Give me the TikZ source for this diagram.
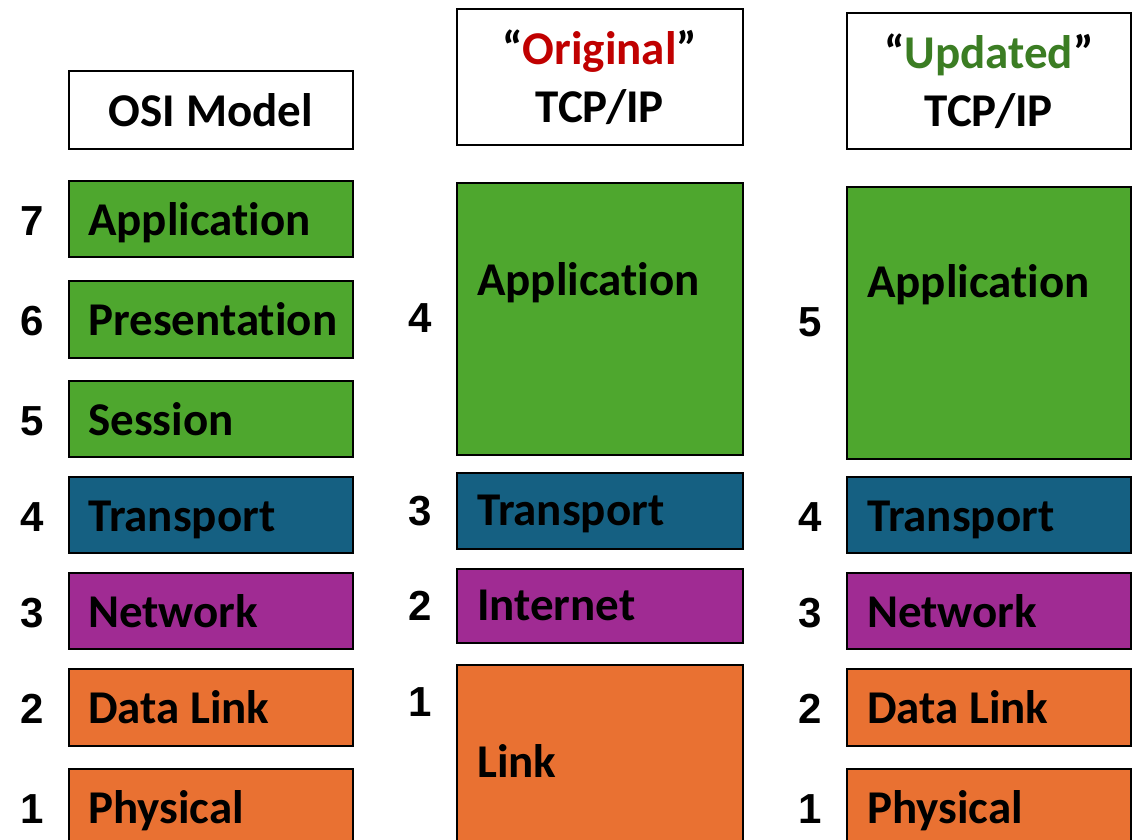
\documentclass[tikz,border=0pt]{standalone}
\usepackage{fontspec}
\setmainfont{Carlito}[Ligatures=NoCommon]
\newfontfamily\numfont{Liberation Sans}
\usetikzlibrary{calc}

% Layer colours
\definecolor{appgreen}{HTML}{4EA72E}
\definecolor{transblue}{HTML}{156082}
\definecolor{netpurple}{HTML}{A02B93}
\definecolor{linkorange}{HTML}{E97132}
\definecolor{origred}{HTML}{C00000}
\definecolor{updgreen}{HTML}{3B7D23}

\tikzset{
  layerbox/.style={draw=black, line width=1.6pt, rectangle, inner sep=0pt,
    anchor=north west, minimum width=284pt},
  titlebox/.style={draw=black, line width=1.6pt, rectangle, fill=white,
    anchor=north west, minimum width=284pt, align=center, inner sep=0pt,
    font=\fontsize{47}{58}\selectfont\bfseries},
  lbl/.style={inner sep=0pt, anchor=base west,
    font=\fontsize{47}{56}\selectfont\bfseries},
  num/.style={inner sep=0pt, anchor=base,
    font=\fontsize{42}{50}\selectfont\numfont\bfseries},
}

\begin{document}
\begin{tikzpicture}[x=1pt, y=-1pt]
\useasboundingbox (0,0) rectangle (1135,840);
\clip (0,0) rectangle (1135,840);

% ---------- OSI model ----------
\node[titlebox, minimum height=78pt] (osiT) at (68,70) {OSI Model};

\node[layerbox, fill=appgreen,   minimum height=76pt]  (osi7) at (68,180) {};
\node[layerbox, fill=appgreen,   minimum height=77pt]  (osi6) at (68,280) {};
\node[layerbox, fill=appgreen,   minimum height=76pt]  (osi5) at (68,380) {};
\node[layerbox, fill=transblue,  minimum height=76pt]  (osi4) at (68,476) {};
\node[layerbox, fill=netpurple,  minimum height=76pt]  (osi3) at (68,572) {};
\node[layerbox, fill=linkorange, minimum height=77pt]  (osi2) at (68,668) {};
\node[layerbox, fill=linkorange, minimum height=110pt] (osi1) at (68,768) {};

\node[lbl] (osi7t) at ($(osi7.north west)+(20,55)$) {Application};
\node[lbl] (osi6t) at ($(osi6.north west)+(20,55)$) {Presentation};
\node[lbl] (osi5t) at ($(osi5.north west)+(20,55)$) {Session};
\node[lbl] (osi4t) at ($(osi4.north west)+(20,55)$) {Transport};
\node[lbl] (osi3t) at ($(osi3.north west)+(20,55)$) {Network};
\node[lbl] (osi2t) at ($(osi2.north west)+(20,55)$) {Data Link};
\node[lbl] (osi1t) at ($(osi1.north west)+(20,55)$) {Physical};

\node[num] (osi7n) at ($(osi7.north west)+(-36,55)$) {7};
\node[num] (osi6n) at ($(osi6.north west)+(-36,55)$) {6};
\node[num] (osi5n) at ($(osi5.north west)+(-36,55)$) {5};
\node[num] (osi4n) at ($(osi4.north west)+(-36,55)$) {4};
\node[num] (osi3n) at ($(osi3.north west)+(-36,55)$) {3};
\node[num] (osi2n) at ($(osi2.north west)+(-36,55)$) {2};
\node[num] (osi1n) at ($(osi1.north west)+(-36,55)$) {1};

% ---------- Original TCP/IP ----------
\node[titlebox, minimum width=286pt, minimum height=136pt] (origT) at (456,8)
  {“\textcolor{origred}{Original}”\\TCP/IP};

\node[layerbox, fill=appgreen,   minimum width=286pt, minimum height=272pt] (org4) at (456,182) {};
\node[layerbox, fill=transblue,  minimum width=286pt, minimum height=76pt]  (org3) at (456,472) {};
\node[layerbox, fill=netpurple,  minimum width=286pt, minimum height=74pt]  (org2) at (456,568) {};
\node[layerbox, fill=linkorange, minimum width=286pt, minimum height=210pt] (org1) at (456,664) {};

\node[lbl] (org4t) at ($(org4.north west)+(21,113)$) {Application};
\node[lbl] (org3t) at ($(org3.north west)+(21,53)$)  {Transport};
\node[lbl] (org2t) at ($(org2.north west)+(21,52)$)  {Internet};
\node[lbl] (org1t) at ($(org1.north west)+(21,113)$) {Link};

\node[num] (org4n) at ($(org4.north west)+(-36,150)$) {4};
\node[num] (org3n) at ($(org3.north west)+(-36,53)$)  {3};
\node[num] (org2n) at ($(org2.north west)+(-36,52)$)  {2};
\node[num] (org1n) at ($(org1.north west)+(-36,52)$)  {1};

% ---------- Updated TCP/IP ----------
\node[titlebox, minimum height=136pt] (updT) at (846,12)
  {“\textcolor{updgreen}{Updated}”\\TCP/IP};

\node[layerbox, fill=appgreen,   minimum height=272pt] (upd5) at (846,186) {};
\node[layerbox, fill=transblue,  minimum height=76pt]  (upd4) at (846,476) {};
\node[layerbox, fill=netpurple,  minimum height=76pt]  (upd3) at (846,572) {};
\node[layerbox, fill=linkorange, minimum height=77pt]  (upd2) at (846,668) {};
\node[layerbox, fill=linkorange, minimum height=110pt] (upd1) at (846,768) {};

\node[lbl] (upd5t) at ($(upd5.north west)+(21,111)$) {Application};
\node[lbl] (upd4t) at ($(upd4.north west)+(21,55)$)  {Transport};
\node[lbl] (upd3t) at ($(upd3.north west)+(21,55)$)  {Network};
\node[lbl] (upd2t) at ($(upd2.north west)+(21,55)$)  {Data Link};
\node[lbl] (upd1t) at ($(upd1.north west)+(21,55)$)  {Physical};

\node[num] (upd5n) at ($(upd5.north west)+(-36,150)$) {5};
\node[num] (upd4n) at ($(upd4.north west)+(-36,55)$)  {4};
\node[num] (upd3n) at ($(upd3.north west)+(-36,55)$)  {3};
\node[num] (upd2n) at ($(upd2.north west)+(-36,55)$)  {2};
\node[num] (upd1n) at ($(upd1.north west)+(-36,55)$)  {1};
\end{tikzpicture}
\end{document}
